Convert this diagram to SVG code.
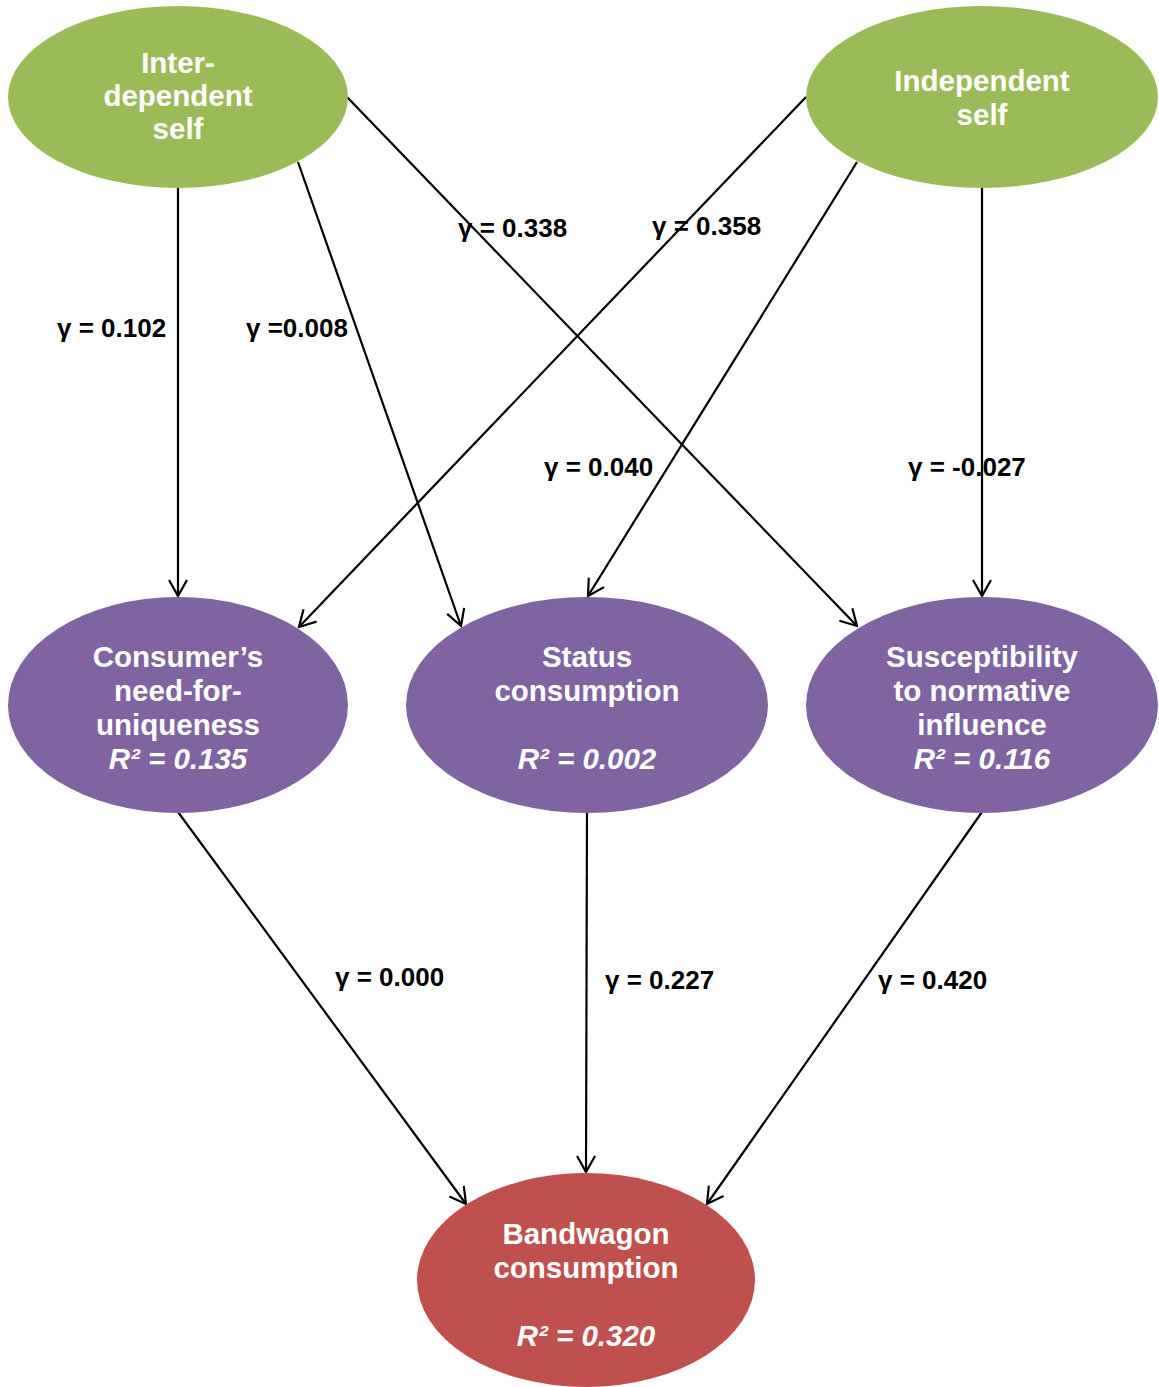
<svg xmlns="http://www.w3.org/2000/svg" width="1159" height="1387" viewBox="0 0 1159 1387">
<style>
.nt{font-family:"Liberation Sans",Arial,sans-serif;font-weight:bold;font-size:29.5px;fill:#fff;text-anchor:middle}
.r2{font-style:italic}
.lb{font-family:"Liberation Sans",Arial,sans-serif;font-weight:bold;font-size:26px;fill:#000}
.ed{stroke:#000;stroke-width:2.2;fill:none}
</style>
<defs>
<marker id="ah" markerUnits="userSpaceOnUse" viewBox="-18 -11 20 22" refX="0" refY="0" markerWidth="20" markerHeight="22" orient="auto">
<path d="M-16,-9 L0,0 L-16,9" fill="none" stroke="#000" stroke-width="2.2"/>
</marker>
</defs>
<rect width="1159" height="1387" fill="#fff"/>
<g id="connectors">
<line class="ed" x1="178" y1="188" x2="178" y2="596" marker-end="url(#ah)"/>
<line class="ed" x1="298" y1="162" x2="461" y2="626" marker-end="url(#ah)"/>
<line class="ed" x1="347" y1="97" x2="857" y2="626" marker-end="url(#ah)"/>
<line class="ed" x1="806" y1="97" x2="299" y2="627" marker-end="url(#ah)"/>
<line class="ed" x1="857" y1="162" x2="588" y2="596" marker-end="url(#ah)"/>
<line class="ed" x1="982" y1="188" x2="982" y2="596" marker-end="url(#ah)"/>
<line class="ed" x1="178" y1="812" x2="466" y2="1204" marker-end="url(#ah)"/>
<line class="ed" x1="587" y1="812" x2="586" y2="1172" marker-end="url(#ah)"/>
<line class="ed" x1="982" y1="812" x2="707" y2="1204" marker-end="url(#ah)"/>
</g>
<g id="labels">
<text class="lb" x="57" y="337">γ = 0.102</text>
<text class="lb" x="246" y="337">γ =0.008</text>
<text class="lb" x="458" y="237">γ = 0.338</text>
<text class="lb" x="652" y="235">γ = 0.358</text>
<text class="lb" x="544" y="476">γ = 0.040</text>
<text class="lb" x="908" y="476">γ = -0.027</text>
<text class="lb" x="335" y="986">γ = 0.000</text>
<text class="lb" x="605" y="989">γ = 0.227</text>
<text class="lb" x="878" y="989">γ = 0.420</text>
</g>
<g id="interdependent">
<ellipse cx="178" cy="97" rx="170" ry="91" fill="#9BBB59"/>
<text class="nt" x="178" y="73">Inter-</text>
<text class="nt" x="178" y="106">dependent</text>
<text class="nt" x="178" y="139">self</text>
</g>
<g id="independent">
<ellipse cx="982" cy="97" rx="176" ry="91" fill="#9BBB59"/>
<text class="nt" x="982" y="91">Independent</text>
<text class="nt" x="982" y="125">self</text>
</g>
<g id="uniqueness">
<ellipse cx="178" cy="705" rx="170" ry="108" fill="#8064A2"/>
<text class="nt" x="178" y="667">Consumer’s</text>
<text class="nt" x="178" y="701">need-for-</text>
<text class="nt" x="178" y="735">uniqueness</text>
<text class="nt r2" x="178" y="769">R² = 0.135</text>
</g>
<g id="status">
<ellipse cx="587" cy="705" rx="181" ry="108" fill="#8064A2"/>
<text class="nt" x="587" y="667">Status</text>
<text class="nt" x="587" y="701">consumption</text>
<text class="nt r2" x="587" y="769">R² = 0.002</text>
</g>
<g id="susceptibility">
<ellipse cx="982" cy="705" rx="176" ry="108" fill="#8064A2"/>
<text class="nt" x="982" y="667">Susceptibility</text>
<text class="nt" x="982" y="701">to normative</text>
<text class="nt" x="982" y="735">influence</text>
<text class="nt r2" x="982" y="769">R² = 0.116</text>
</g>
<g id="bandwagon">
<ellipse cx="586" cy="1280" rx="169" ry="107" fill="#C0504D"/>
<text class="nt" x="586" y="1244">Bandwagon</text>
<text class="nt" x="586" y="1278">consumption</text>
<text class="nt r2" x="586" y="1346">R² = 0.320</text>
</g>
</svg>
